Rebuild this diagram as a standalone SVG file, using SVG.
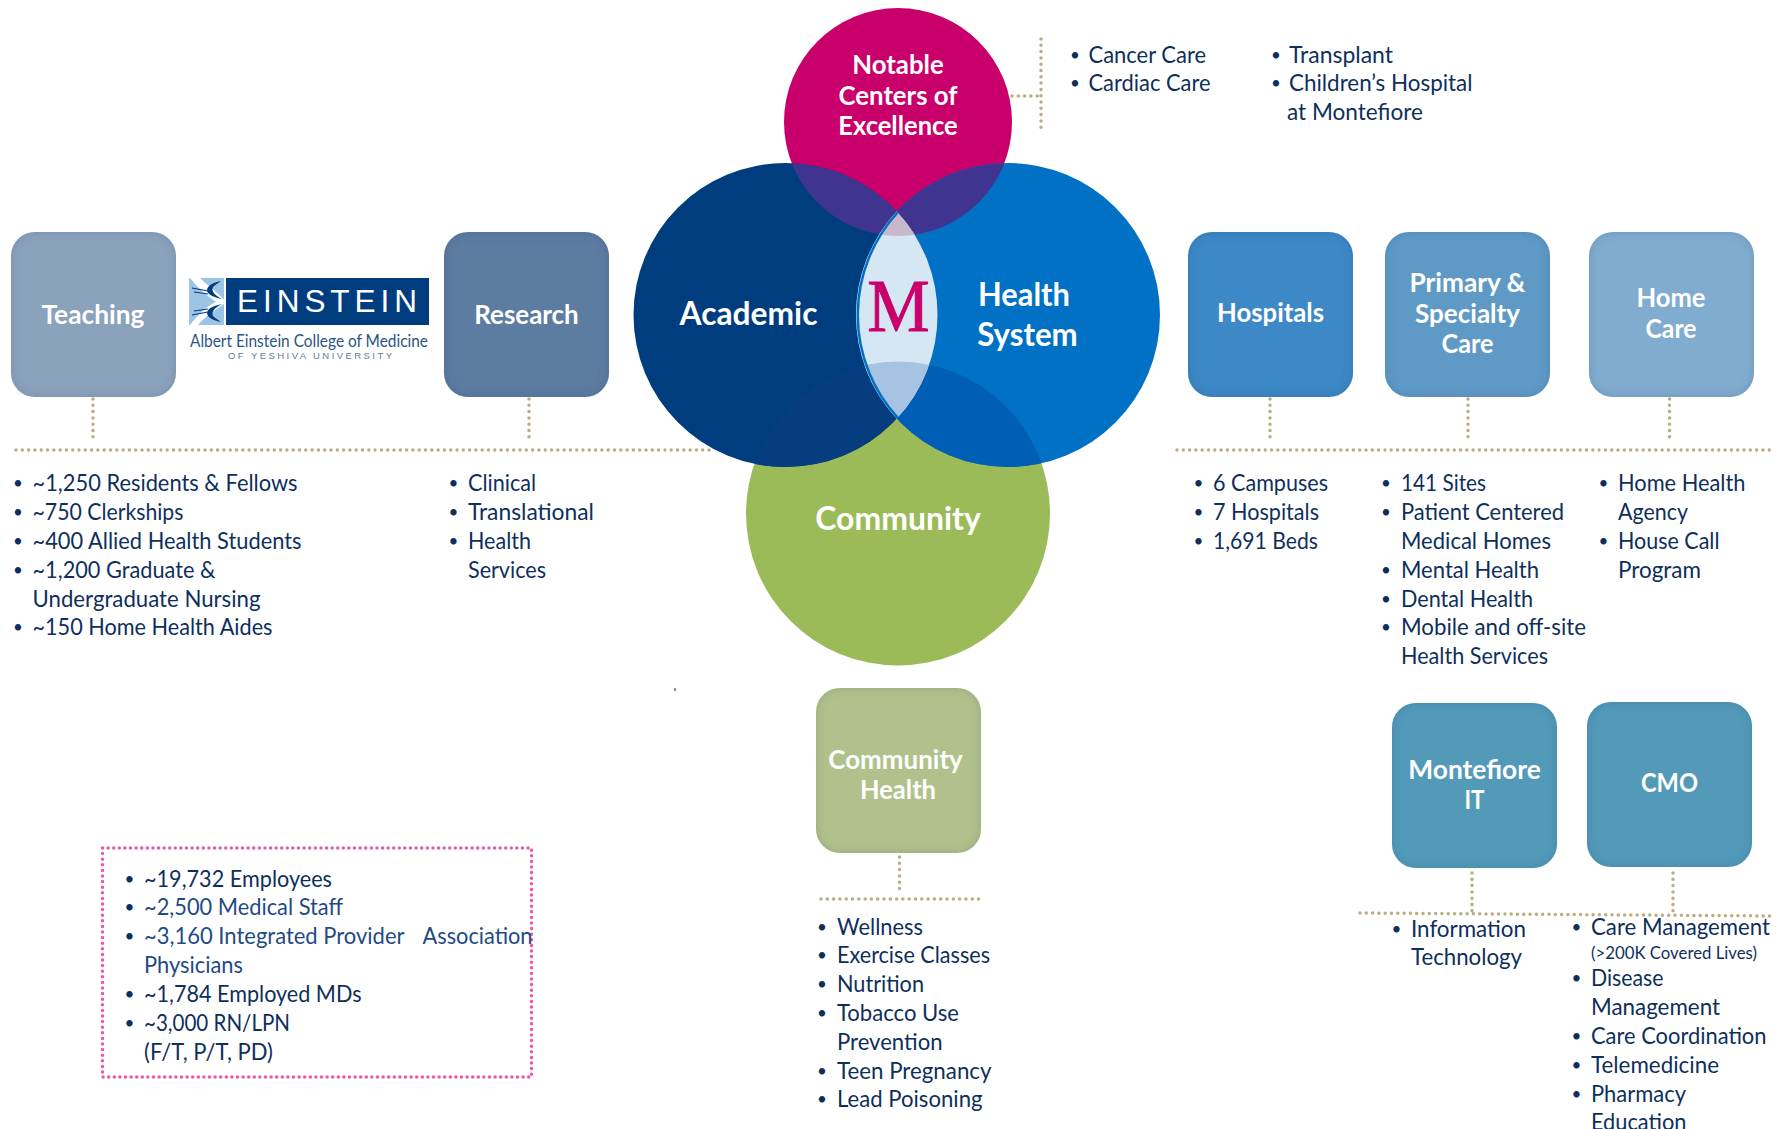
<svg xmlns="http://www.w3.org/2000/svg" width="1789" height="1129" viewBox="0 0 1789 1129">
<style>
text{font-family:"Lato","Open Sans","Liberation Sans",sans-serif}
.l{font-size:23.500px;fill:#0e2f5c}
.m{fill:#1f4a85}
.b{font-size:17px;fill:#0e2f5c;text-anchor:middle;transform:translateY(-2.500px)}
.h{font-weight:700;fill:#fff;text-anchor:middle}
.n{font-size:27px}
.c{font-size:32px}
.dot{fill:none;stroke:#b9ae80;stroke-width:3.500;stroke-linecap:round;stroke-dasharray:0 6.3}
.pink{fill:none;stroke:#ea5aa6;stroke-width:3.500;stroke-linecap:round;stroke-dasharray:0 5.6}
</style>
<defs>
<filter id="inner" x="-5%" y="-5%" width="110%" height="110%">
<feGaussianBlur in="SourceAlpha" stdDeviation="5" result="bl"/>
<feComposite in="SourceAlpha" in2="bl" operator="out" result="edge"/>
<feFlood flood-color="#1d3f66" flood-opacity="0.3"/>
<feComposite in2="edge" operator="in" result="shade"/>
<feMerge><feMergeNode in="SourceGraphic"/><feMergeNode in="shade"/></feMerge>
</filter>
<clipPath id="cA"><circle cx="785.500" cy="315" r="152"/></clipPath>
<clipPath id="cH"><circle cx="1008" cy="315" r="152"/></clipPath>
<clipPath id="cAH" clip-path="url(#cA)"><circle cx="1008" cy="315" r="152"/></clipPath>
</defs>
<g id="connectors">
<path class="dot" d="M16 450H714M93 399V443M529 399V443"/>
<path class="dot" d="M1177 450H1774M1270 399V443M1468 399V443M1669.500 399V443"/>
<path class="dot" d="M1041 39V131M1012 96H1041"/>
<path class="dot" d="M899.500 857V893M821 899H983"/>
<path class="dot" d="M1360 913L1773 916M1472 873V912M1673 873V915"/>
</g>
<g id="venn">
<circle cx="898" cy="513.500" r="152" fill="#9bbb59"/>
<circle cx="898" cy="122" r="114" fill="#c9006c"/>
<circle cx="785.500" cy="315" r="152" fill="#003d7f"/>
<circle cx="1008" cy="315" r="152" fill="#0071c5"/>
<g clip-path="url(#cA)"><circle cx="898" cy="122" r="114" fill="#3f3590"/><circle cx="898" cy="513.500" r="152" fill="#063d7e"/></g>
<g clip-path="url(#cH)"><circle cx="898" cy="122" r="114" fill="#3f3590"/><circle cx="898" cy="513.500" r="152" fill="#005eb5"/></g>
<g clip-path="url(#cAH)"><rect x="850" y="160" width="100" height="310" fill="#d6e7f4"/><circle cx="898" cy="122" r="114" fill="#c9b8cc"/><circle cx="898" cy="513.500" r="152" fill="#a7c3e2"/></g>
<path d="M898 212A152 152 0 0 0 898 418" fill="none" stroke="#0071c5" stroke-width="2.500"/>
<text x="898.500" y="330.500" text-anchor="middle" font-size="74" fill="#c9006c" stroke="#c9006c" stroke-width="0.900" style="font-family:'Liberation Serif',serif" textLength="62.500" lengthAdjust="spacingAndGlyphs">M</text>
</g>
<g id="notable"><text class="h n" x="898" y="74" textLength="91.500" lengthAdjust="spacingAndGlyphs">Notable</text><text class="h n" x="898" y="105" textLength="119" lengthAdjust="spacingAndGlyphs">Centers of</text><text class="h n" x="898" y="135" textLength="119.500" lengthAdjust="spacingAndGlyphs">Excellence</text></g>
<g id="academic"><text class="h c" x="748.500" y="325" textLength="138" lengthAdjust="spacingAndGlyphs">Academic</text></g>
<g id="health-system"><text class="h c" x="1024" y="306" textLength="92" lengthAdjust="spacingAndGlyphs">Health</text><text class="h c" x="1027.500" y="345.500" textLength="100.500" lengthAdjust="spacingAndGlyphs">System</text></g>
<g id="community"><text class="h c" x="898" y="529.500" textLength="165.500" lengthAdjust="spacingAndGlyphs">Community</text></g>
<g id="teaching"><rect x="11" y="232" width="165" height="165" rx="24" fill="#8ba2bd" filter="url(#inner)"/><text class="h n" x="93" y="323.500" textLength="103" lengthAdjust="spacingAndGlyphs">Teaching</text></g>
<g id="research"><rect x="444" y="232" width="165" height="165" rx="24" fill="#5d7ca2" filter="url(#inner)"/><text class="h n" x="526.500" y="323.500" textLength="104.500" lengthAdjust="spacingAndGlyphs">Research</text></g>
<g id="hospitals"><rect x="1188" y="232" width="165" height="165" rx="24" fill="#3c88c6" filter="url(#inner)"/><text class="h n" x="1270.500" y="322" textLength="107" lengthAdjust="spacingAndGlyphs">Hospitals</text></g>
<g id="primary"><rect x="1385" y="232" width="165" height="165" rx="24" fill="#5e9ac7" filter="url(#inner)"/><text class="h n" x="1467.500" y="292" textLength="116" lengthAdjust="spacingAndGlyphs">Primary &amp;</text><text class="h n" x="1467.500" y="323" textLength="105" lengthAdjust="spacingAndGlyphs">Specialty</text><text class="h n" x="1467.500" y="353" textLength="52" lengthAdjust="spacingAndGlyphs">Care</text></g>
<g id="home"><rect x="1589" y="232" width="165" height="165" rx="24" fill="#80accf" filter="url(#inner)"/><text class="h n" x="1671" y="307" textLength="69" lengthAdjust="spacingAndGlyphs">Home</text><text class="h n" x="1671" y="338" textLength="51" lengthAdjust="spacingAndGlyphs">Care</text></g>
<g id="community-health"><rect x="816" y="688" width="165" height="165" rx="24" fill="#b0c18b" filter="url(#inner)"/><text class="h n" x="895.500" y="769" textLength="134.500" lengthAdjust="spacingAndGlyphs">Community</text><text class="h n" x="898" y="799" textLength="76" lengthAdjust="spacingAndGlyphs">Health</text></g>
<g id="it"><rect x="1392" y="703" width="165" height="165" rx="24" fill="#529ab9" filter="url(#inner)"/><text class="h n" x="1474.500" y="779" textLength="132.500" lengthAdjust="spacingAndGlyphs">Montefiore</text><text class="h n" x="1474.500" y="809" textLength="20" lengthAdjust="spacingAndGlyphs">IT</text></g>
<g id="cmo"><rect x="1587" y="702" width="165" height="165" rx="24" fill="#529ab9" filter="url(#inner)"/><text class="h n" x="1669.500" y="792" textLength="57" lengthAdjust="spacingAndGlyphs">CMO</text></g>
<g id="einstein">
<rect x="189" y="278" width="35" height="47" fill="#9cc4e4"/>
<path d="M190 278H200C208 286 218 292 224 300V304C212 312 206 316 198 325H190C198 315 206 306 216 302C206 295 198 288 190 278Z" fill="#fff"/>
<path d="M221 281C209 283 204 289 209 294C213 297 218 298 222 299C214 295 210 290 214 286C216 284 219 283 221 281ZM221 322C209 320 204 314 209 309C213 306 218 305 222 304C214 308 210 313 214 317C216 319 219 320 221 322Z" fill="#003d7f"/>
<path d="M192 288L208 291M194 292L208 294M192 315L208 312M194 311L208 309" stroke="#003d7f" stroke-width="1.200" fill="none"/>
<rect x="226" y="278" width="203" height="47" fill="#003d7f"/>
<text x="237" y="311.500" font-size="31.500" fill="#fff" style="font-family:'Liberation Sans',sans-serif" textLength="180">EINSTEIN</text>
<text x="190" y="346.500" font-size="16.500" fill="#2a5586" textLength="238" lengthAdjust="spacingAndGlyphs">Albert Einstein College of Medicine</text>
<text x="228" y="359" font-size="9.500" fill="#5f7b9c" style="font-family:'Liberation Sans',sans-serif" textLength="164">OF YESHIVA UNIVERSITY</text>
</g>
<g id="list-teaching">
<text class="b" x="18" y="491">•</text><text class="l" x="32.500" y="491" textLength="265" lengthAdjust="spacingAndGlyphs">~1,250 Residents &amp; Fellows</text>
<text class="b" x="18" y="520">•</text><text class="l" x="32.500" y="520" textLength="151" lengthAdjust="spacingAndGlyphs">~750 Clerkships</text>
<text class="b" x="18" y="549">•</text><text class="l" x="32.500" y="549" textLength="269" lengthAdjust="spacingAndGlyphs">~400 Allied Health Students</text>
<text class="b" x="18" y="578">•</text><text class="l" x="32.500" y="578" textLength="183" lengthAdjust="spacingAndGlyphs">~1,200 Graduate &amp;</text>
<text class="l" x="32.500" y="607" textLength="228" lengthAdjust="spacingAndGlyphs">Undergraduate Nursing</text>
<text class="b" x="18" y="635">•</text><text class="l" x="32.500" y="635" textLength="240" lengthAdjust="spacingAndGlyphs">~150 Home Health Aides</text>
</g>
<g id="list-research">
<text class="b" x="453.500" y="491">•</text><text class="l" x="468" y="491" textLength="68" lengthAdjust="spacingAndGlyphs">Clinical</text>
<text class="b" x="453.500" y="520">•</text><text class="l" x="468" y="520" textLength="126" lengthAdjust="spacingAndGlyphs">Translational</text>
<text class="b" x="453.500" y="549">•</text><text class="l" x="468" y="549" textLength="63" lengthAdjust="spacingAndGlyphs">Health</text>
<text class="l" x="468" y="578" textLength="78" lengthAdjust="spacingAndGlyphs">Services</text>
</g>
<g id="list-hospitals">
<text class="b" x="1198.500" y="491">•</text><text class="l" x="1213" y="491" textLength="115" lengthAdjust="spacingAndGlyphs">6 Campuses</text>
<text class="b" x="1198.500" y="520">•</text><text class="l" x="1213" y="520" textLength="106" lengthAdjust="spacingAndGlyphs">7 Hospitals</text>
<text class="b" x="1198.500" y="549">•</text><text class="l" x="1213" y="549" textLength="105" lengthAdjust="spacingAndGlyphs">1,691 Beds</text>
</g>
<g id="list-primary">
<text class="b" x="1386" y="491">•</text><text class="l" x="1401" y="491" textLength="85" lengthAdjust="spacingAndGlyphs">141 Sites</text>
<text class="b" x="1386" y="520">•</text><text class="l" x="1401" y="520" textLength="163" lengthAdjust="spacingAndGlyphs">Patient Centered</text>
<text class="l" x="1401" y="549" textLength="150" lengthAdjust="spacingAndGlyphs">Medical Homes</text>
<text class="b" x="1386" y="578">•</text><text class="l" x="1401" y="578" textLength="138" lengthAdjust="spacingAndGlyphs">Mental Health</text>
<text class="b" x="1386" y="607">•</text><text class="l" x="1401" y="607" textLength="132" lengthAdjust="spacingAndGlyphs">Dental Health</text>
<text class="b" x="1386" y="635">•</text><text class="l" x="1401" y="635" textLength="185" lengthAdjust="spacingAndGlyphs">Mobile and off-site</text>
<text class="l" x="1401" y="664" textLength="147" lengthAdjust="spacingAndGlyphs">Health Services</text>
</g>
<g id="list-home">
<text class="b" x="1603.500" y="491">•</text><text class="l" x="1618" y="491" textLength="127.500" lengthAdjust="spacingAndGlyphs">Home Health</text>
<text class="l" x="1618" y="520" textLength="70" lengthAdjust="spacingAndGlyphs">Agency</text>
<text class="b" x="1603.500" y="549">•</text><text class="l" x="1618" y="549" textLength="101.500" lengthAdjust="spacingAndGlyphs">House Call</text>
<text class="l" x="1618" y="578" textLength="83" lengthAdjust="spacingAndGlyphs">Program</text>
</g>
<g id="list-centers">
<text class="b" x="1075" y="63">•</text><text class="l" x="1088.500" y="63" textLength="117.500" lengthAdjust="spacingAndGlyphs">Cancer Care</text>
<text class="b" x="1075" y="91">•</text><text class="l" x="1088.500" y="91" textLength="122" lengthAdjust="spacingAndGlyphs">Cardiac Care</text>
<text class="b" x="1276" y="63">•</text><text class="l" x="1289" y="63" textLength="104" lengthAdjust="spacingAndGlyphs">Transplant</text>
<text class="b" x="1276" y="91">•</text><text class="l" x="1289" y="91" textLength="183.500" lengthAdjust="spacingAndGlyphs">Children’s Hospital</text>
<text class="l" x="1287" y="120" textLength="136" lengthAdjust="spacingAndGlyphs">at Montefiore</text>
</g>
<g id="list-community">
<text class="b" x="822" y="935">•</text><text class="l" x="837" y="935" textLength="86" lengthAdjust="spacingAndGlyphs">Wellness</text>
<text class="b" x="822" y="963">•</text><text class="l" x="837" y="963" textLength="153" lengthAdjust="spacingAndGlyphs">Exercise Classes</text>
<text class="b" x="822" y="992">•</text><text class="l" x="837" y="992" textLength="87" lengthAdjust="spacingAndGlyphs">Nutrition</text>
<text class="b" x="822" y="1021">•</text><text class="l" x="837" y="1021" textLength="122" lengthAdjust="spacingAndGlyphs">Tobacco Use</text>
<text class="l" x="837" y="1050" textLength="105.500" lengthAdjust="spacingAndGlyphs">Prevention</text>
<text class="b" x="822" y="1079">•</text><text class="l" x="837" y="1079" textLength="154.500" lengthAdjust="spacingAndGlyphs">Teen Pregnancy</text>
<text class="b" x="822" y="1107">•</text><text class="l" x="837" y="1107" textLength="145.500" lengthAdjust="spacingAndGlyphs">Lead Poisoning</text>
</g>
<g id="list-it">
<text class="b" x="1396.500" y="937">•</text><text class="l" x="1411" y="937" textLength="115" lengthAdjust="spacingAndGlyphs">Information</text>
<text class="l" x="1411" y="965" textLength="111" lengthAdjust="spacingAndGlyphs">Technology</text>
</g>
<g id="list-cmo">
<text class="b" x="1576.500" y="935">•</text><text class="l" x="1591" y="935" textLength="179" lengthAdjust="spacingAndGlyphs">Care Management</text>
<text class="l" x="1591" y="959" style="font-size:17px" textLength="166" lengthAdjust="spacingAndGlyphs">(&gt;200K Covered Lives)</text>
<text class="b" x="1576.500" y="986">•</text><text class="l" x="1591" y="986" textLength="72.500" lengthAdjust="spacingAndGlyphs">Disease</text>
<text class="l" x="1591" y="1015" textLength="129" lengthAdjust="spacingAndGlyphs">Management</text>
<text class="b" x="1576.500" y="1044">•</text><text class="l" x="1591" y="1044" textLength="175.500" lengthAdjust="spacingAndGlyphs">Care Coordination</text>
<text class="b" x="1576.500" y="1073">•</text><text class="l" x="1591" y="1073" textLength="128" lengthAdjust="spacingAndGlyphs">Telemedicine</text>
<text class="b" x="1576.500" y="1102">•</text><text class="l" x="1591" y="1102" textLength="95" lengthAdjust="spacingAndGlyphs">Pharmacy</text>
<text class="l" x="1591" y="1130" textLength="95.500" lengthAdjust="spacingAndGlyphs">Education</text>
</g>
<g id="staff-box">
<rect class="pink" x="102.500" y="848" width="429" height="229"/>
<text class="b" x="129.500" y="887">•</text><text class="l" x="144" y="887" textLength="188" lengthAdjust="spacingAndGlyphs">~19,732 Employees</text>
<text class="b m" x="129.500" y="915">•</text><text class="l m" x="144" y="915" textLength="199" lengthAdjust="spacingAndGlyphs">~2,500 Medical Staff</text>
<text class="b m" x="129.500" y="944">•</text><text class="l m" x="144" y="944" textLength="260.500" lengthAdjust="spacingAndGlyphs">~3,160 Integrated Provider</text><text class="l m" x="422.500" y="944" textLength="110" lengthAdjust="spacingAndGlyphs">Association</text>
<text class="l m" x="144" y="973" textLength="99" lengthAdjust="spacingAndGlyphs">Physicians</text>
<text class="b" x="129.500" y="1002">•</text><text class="l" x="144" y="1002" textLength="217.500" lengthAdjust="spacingAndGlyphs">~1,784 Employed MDs</text>
<text class="b" x="129.500" y="1031">•</text><text class="l" x="144" y="1031" textLength="146" lengthAdjust="spacingAndGlyphs">~3,000 RN/LPN</text>
<text class="l" x="144" y="1060" textLength="129" lengthAdjust="spacingAndGlyphs">(F/T, P/T, PD)</text>
</g>
<rect x="674" y="688" width="2" height="3" fill="#8f8f8f"/>
</svg>
